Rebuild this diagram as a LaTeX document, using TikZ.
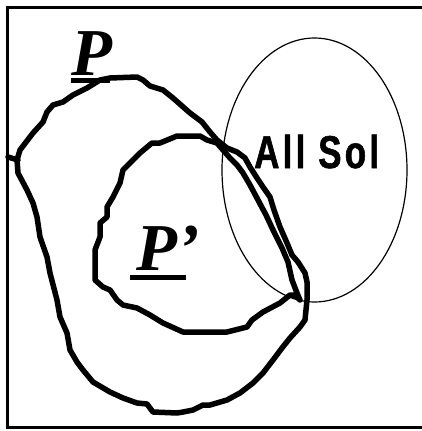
\documentclass[tikz,border=0pt]{standalone}
\usepackage{fontspec}
\setmainfont{Liberation Serif}
\newfontfamily\solfont{Liberation Sans}[FakeStretch=0.76, LetterSpace=7, FakeBold=1.2]
\usetikzlibrary{shapes.geometric}
\tikzset{
  blob/.style={line width=5.5pt, line join=round, line cap=round},
  frame/.style={line width=3pt},
  solset/.style={draw, ellipse, line width=1.2pt, inner sep=0pt},
  biglabel/.style={inner sep=0pt, font=\fontsize{67}{67}\selectfont\bfseries\itshape},
  soltext/.style={inner sep=0pt, font=\fontsize{46}{46}\selectfont\solfont\bfseries},
  uline/.style={line width=5pt}
}
\begin{document}
\begin{tikzpicture}[x=1pt,y=-1pt]
\useasboundingbox (0,0) rectangle (422,431);
% frame (left, top, bottom)
\draw[frame] (422,7.5) -- (7.5,7.5) -- (7.5,427.5) -- (422,427.5);
% All Sol set
\node[solset, minimum width=185pt, minimum height=264pt] (sol) at (314.5,170) {};
\node[soltext, anchor=base west] (soltxt) at (254,168) {All Sol};
% outer blob P
\draw[blob] (8,157) -- (18,160);
\draw[blob] (17,160) -- (20,150) -- (33,133) -- (43,122) -- (47,112) -- (53,105) -- (63,102)
 -- (73,95) -- (87,88) -- (100,80) -- (110,78) -- (137,77) -- (143,80) -- (150,86) -- (163,90)
 -- (173,98) -- (190,113) -- (202,122) -- (210,132) -- (217,140) -- (227,148) -- (237,152)
 -- (245,158) -- (250,167) -- (257,178) -- (263,187) -- (270,197) -- (274,210) -- (280,227)
 -- (287,243) -- (292,255) -- (298,262) -- (305,273) -- (307,282) -- (307,300) -- (305,320)
 -- (300,327) -- (290,338) -- (282,348) -- (273,360) -- (263,373) -- (253,383) -- (240,393)
 -- (227,400) -- (210,405) -- (203,405) -- (193,410) -- (183,412) -- (177,413) -- (153,412)
 -- (147,404) -- (137,403) -- (123,398) -- (110,392) -- (93,382) -- (83,370) -- (77,362)
 -- (70,350) -- (67,333) -- (60,317) -- (57,300) -- (50,273) -- (47,257) -- (40,237)
 -- (37,217) -- (33,203) -- (27,190) -- (18,173) -- cycle;
% inner blob P'
\draw[blob] (223,150) -- (230,158) -- (237,165) -- (243,173) -- (250,185) -- (258,200)
 -- (266,215) -- (274,232) -- (282,248) -- (288,262) -- (292,280) -- (297,293) -- (300,300)
 -- (295,295) -- (290,295) -- (280,303) -- (263,312) -- (252,320) -- (247,327) -- (227,332)
 -- (210,332) -- (183,332) -- (163,323) -- (150,315) -- (137,308) -- (123,305) -- (117,300)
 -- (110,290) -- (103,287) -- (95,280) -- (95,250) -- (100,237) -- (100,223) -- (107,217)
 -- (107,207) -- (113,197) -- (120,183) -- (123,170) -- (133,160) -- (140,153) -- (152,143)
 -- (160,143) -- (177,136) -- (200,136) -- (207,140) -- (217,143) -- cycle;
% labels
\node[biglabel, anchor=base west] (lp) at (71,75) {P};
\draw[uline] (71,80) -- (110,80);
\node[biglabel, anchor=base west] (lpp) at (136,270) {P’};
\draw[uline] (130,277.5) -- (186,277.5);
\end{tikzpicture}
\end{document}
